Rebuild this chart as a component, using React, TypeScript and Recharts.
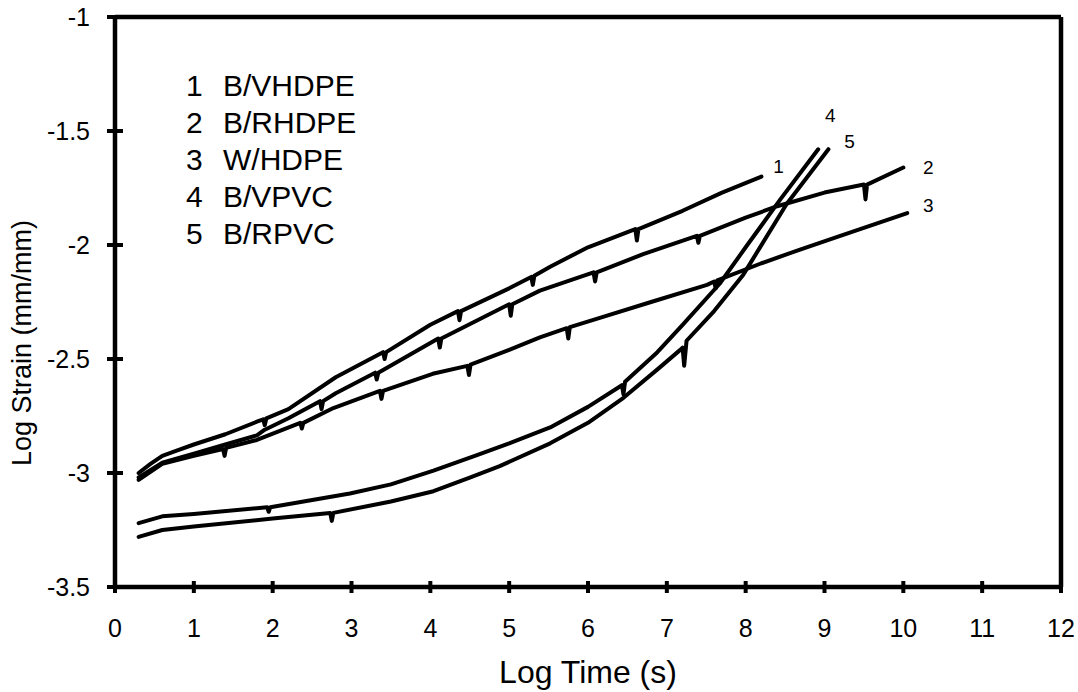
import React from 'react';
import { LineChart, Line, XAxis, YAxis, ReferenceLine, Legend, Label } from 'recharts';

// axis ticks
const X_TICKS = [0, 1, 2, 3, 4, 5, 6, 7, 8, 9, 10, 11, 12];
const Y_TICKS = [-3.5, -3, -2.5, -2, -1.5, -1];

const SERIES_NAMES = ['B/VHDPE', 'B/RHDPE', 'W/HDPE', 'B/VPVC', 'B/RPVC'];

// 1 B/VHDPE
const VHDPE_X = [0.3, 0.45, 0.6, 0.8, 1.0, 1.4, 1.8, 1.88, 1.9, 1.92, 2.2, 2.8, 3.4, 3.42, 3.44, 4.0, 4.35, 4.37, 4.39, 5.0, 5.28, 5.3, 5.32, 5.52, 6.0, 6.6, 6.62, 6.64, 7.2, 7.7, 8.2];
const VHDPE_Y = [-3.0, -2.96, -2.925, -2.9, -2.875, -2.83, -2.775, -2.765, -2.79, -2.76, -2.72, -2.58, -2.47, -2.5, -2.47, -2.35, -2.29, -2.33, -2.29, -2.19, -2.14, -2.175, -2.135, -2.095, -2.01, -1.93, -1.98, -1.93, -1.85, -1.77, -1.7];

// 2 B/RHDPE
const RHDPE_X = [0.3, 0.6, 1.0, 1.4, 1.8, 1.9, 2.2, 2.6, 2.62, 2.64, 2.8, 3.3, 3.32, 3.34, 4.0, 4.1, 4.12, 4.14, 5.0, 5.02, 5.04, 5.39, 6.07, 6.09, 6.11, 6.7, 7.38, 7.4, 7.42, 8.0, 8.4, 9.0, 9.5, 9.52, 9.54, 10.0];
const RHDPE_Y = [-3.02, -2.955, -2.915, -2.875, -2.835, -2.81, -2.76, -2.685, -2.72, -2.685, -2.65, -2.56, -2.59, -2.56, -2.43, -2.41, -2.45, -2.41, -2.26, -2.31, -2.26, -2.2, -2.12, -2.16, -2.12, -2.04, -1.96, -1.99, -1.96, -1.88, -1.83, -1.77, -1.735, -1.8, -1.735, -1.66];

// 3 W/HDPE
const WHDPE_X = [0.3, 0.6, 1.0, 1.37, 1.39, 1.41, 1.8, 2.35, 2.37, 2.39, 2.77, 3.36, 3.38, 3.4, 4.03, 4.47, 4.49, 4.51, 5.0, 5.39, 5.73, 5.75, 5.77, 6.15, 6.8, 7.51, 7.6, 7.62, 7.64, 8.2, 8.69, 9.2, 10.05];
const WHDPE_Y = [-3.03, -2.96, -2.925, -2.895, -2.925, -2.89, -2.855, -2.78, -2.805, -2.78, -2.715, -2.64, -2.675, -2.64, -2.565, -2.53, -2.57, -2.525, -2.46, -2.405, -2.365, -2.41, -2.36, -2.32, -2.25, -2.175, -2.16, -2.19, -2.155, -2.08, -2.02, -1.96, -1.86];

// 4 B/VPVC
const VPVC_X = [0.3, 0.6, 1.0, 1.93, 1.95, 1.97, 2.98, 3.5, 4.04, 4.6, 5.0, 5.52, 6.0, 6.43, 6.45, 6.47, 6.88, 7.2, 7.67, 8.0, 8.44, 8.92];
const VPVC_Y = [-3.22, -3.19, -3.18, -3.15, -3.17, -3.15, -3.09, -3.05, -2.99, -2.92, -2.87, -2.8, -2.71, -2.615, -2.655, -2.6, -2.47, -2.35, -2.17, -2.01, -1.8, -1.58];

// 5 B/RPVC
const RPVC_X = [0.3, 0.6, 1.0, 2.0, 2.73, 2.75, 2.77, 3.5, 4.04, 4.5, 4.88, 5.52, 6.0, 6.45, 6.9, 7.17, 7.2, 7.22, 7.25, 7.6, 7.97, 8.52, 9.05];
const RPVC_Y = [-3.28, -3.25, -3.235, -3.2, -3.175, -3.21, -3.175, -3.125, -3.08, -3.02, -2.97, -2.87, -2.78, -2.67, -2.54, -2.46, -2.45, -2.53, -2.42, -2.29, -2.13, -1.82, -1.58];

// pixel offsets of the "1".."5" tags from each curve's last point
const END_LABEL_OFFSETS = [
  [17, -10],
  [25, 0],
  [21, -8],
  [12, -34],
  [21, -8],
];

const FONT = '"Liberation Sans", Arial, Helvetica, sans-serif';
const INK = '#000';

const zip = (xs: number[], ys: number[]) => xs.map((x, i) => ({ x, y: ys[i] }));

const SERIES = [
  zip(VHDPE_X, VHDPE_Y),
  zip(RHDPE_X, RHDPE_Y),
  zip(WHDPE_X, WHDPE_Y),
  zip(VPVC_X, VPVC_Y),
  zip(RPVC_X, RPVC_Y),
];

const XTick = ({ x, y, payload }: any) => (
  <g>
    <line x1={x} x2={x} y1={y - 6} y2={y + 6} stroke={INK} strokeWidth={4} />
    <text x={x} y={y + 50} textAnchor="middle" fontSize={25} fontFamily={FONT} fill={INK}>
      {payload.value}
    </text>
  </g>
);

const YTick = ({ x, y, payload }: any) => (
  <g>
    <line x1={x - 8} x2={x + 8} y1={y} y2={y} stroke={INK} strokeWidth={4} />
    <text x={x - 25} y={y + 9} textAnchor="end" fontSize={25} fontFamily={FONT} fill={INK}>
      {payload.value}
    </text>
  </g>
);

const renderLegend = () => (
  <div style={{ fontFamily: FONT, fontSize: 30, lineHeight: '37px', color: INK }}>
    {SERIES_NAMES.map((name, i) => (
      <div key={name} style={{ display: 'flex', whiteSpace: 'nowrap' }}>
        <span style={{ width: 37 }}>{i + 1}</span>
        <span>{name}</span>
      </div>
    ))}
  </div>
);

const endLabel = (seriesIndex: number) => (props: any) => {
  const { x, y, index } = props;
  if (index !== SERIES[seriesIndex].length - 1) return null;
  const [dx, dy] = END_LABEL_OFFSETS[seriesIndex];
  return (
    <text
      key={`end-${seriesIndex}`}
      x={x + dx}
      y={y + dy}
      textAnchor="middle"
      dominantBaseline="central"
      fontSize={19}
      fontFamily={FONT}
      fill={INK}
    >
      {seriesIndex + 1}
    </text>
  );
};

export default function App() {
  return (
    <div style={{ position: 'absolute', left: 0, top: 0, background: '#fff' }}>
      <LineChart width={1078} height={692} margin={{ top: 17, right: 17, bottom: 0, left: 0 }}>
        <XAxis
          type="number"
          dataKey="x"
          domain={[0, 12]}
          ticks={X_TICKS}
          interval={0}
          height={105}
          tickSize={0}
          tickMargin={0}
          tickLine={false}
          tick={<XTick />}
          axisLine={{ stroke: INK, strokeWidth: 4.5 }}
        >
          <Label
            value="Log Time (s)"
            position="insideBottom"
            offset={9}
            style={{ fontSize: 32, fontFamily: FONT, fill: INK }}
          />
        </XAxis>
        <YAxis
          type="number"
          dataKey="y"
          domain={[-3.5, -1]}
          ticks={Y_TICKS}
          interval={0}
          width={115}
          tickSize={0}
          tickMargin={0}
          tickLine={false}
          tick={<YTick />}
          axisLine={{ stroke: INK, strokeWidth: 4.5 }}
        >
          <Label
            content={() => (
              <text
                x={31}
                y={343}
                transform="rotate(-90 31 343)"
                textAnchor="middle"
                fontSize={27}
                fontFamily={FONT}
                fill={INK}
              >
                Log Strain (mm/mm)
              </text>
            )}
          />
        </YAxis>
        <ReferenceLine y={-1} stroke={INK} strokeWidth={4.5} />
        <ReferenceLine x={12} stroke={INK} strokeWidth={4.5} />
        <Legend
          content={renderLegend}
          layout="vertical"
          align="center"
          verticalAlign="middle"
          wrapperStyle={{ left: 186, top: 67, width: 'auto', height: 'auto' }}
        />
        {SERIES.map((data, i) => (
          <Line
            key={SERIES_NAMES[i]}
            name={SERIES_NAMES[i]}
            data={data}
            dataKey="y"
            type="linear"
            stroke={INK}
            strokeWidth={4}
            strokeLinecap="round"
            strokeLinejoin="round"
            dot={false}
            activeDot={false}
            label={endLabel(i)}
            isAnimationActive={false}
          />
        ))}
      </LineChart>
    </div>
  );
}
